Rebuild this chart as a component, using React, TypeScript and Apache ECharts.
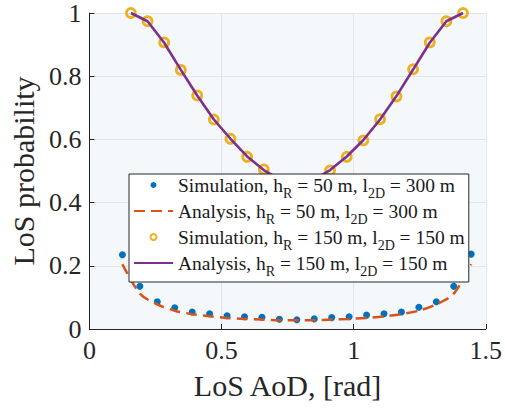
import React, { useEffect, useRef } from "react";
import * as echarts from "echarts";

// Simulation / analysis for h_R = 50 m, l_2D = 300 m
const aod50 = [0.125, 0.191, 0.257, 0.323, 0.389, 0.455, 0.521, 0.587, 0.653, 0.719, 0.785, 0.851, 0.917, 0.983, 1.049, 1.115, 1.181, 1.247, 1.313, 1.379, 1.445];
const sim50 = [0.235, 0.135, 0.086, 0.067, 0.054, 0.048, 0.042, 0.039, 0.037, 0.031, 0.029, 0.032, 0.036, 0.039, 0.044, 0.048, 0.054, 0.069, 0.086, 0.135, 0.237];
const ana50 = [0.205, 0.112, 0.078, 0.058, 0.047, 0.040, 0.035, 0.032, 0.030, 0.028, 0.028, 0.028, 0.030, 0.032, 0.035, 0.040, 0.047, 0.058, 0.078, 0.112, 0.205];

// Simulation / analysis for h_R = 150 m, l_2D = 150 m
const aod150 = [0.157, 0.220, 0.283, 0.346, 0.408, 0.471, 0.534, 0.597, 0.660, 0.723, 0.785, 0.848, 0.911, 0.974, 1.037, 1.100, 1.162, 1.225, 1.288, 1.351, 1.414];
const sim150 = [1.0, 0.974, 0.907, 0.820, 0.739, 0.663, 0.602, 0.545, 0.505, 0.472, 0.460, 0.472, 0.502, 0.545, 0.597, 0.664, 0.736, 0.822, 0.907, 0.974, 1.0];
const ana150 = [1.0, 0.974, 0.906, 0.820, 0.739, 0.663, 0.602, 0.546, 0.503, 0.472, 0.460, 0.472, 0.503, 0.546, 0.598, 0.663, 0.737, 0.821, 0.906, 0.974, 1.0];

const seriesNames = [
  "Simulation, hR = 50 m, l2D = 300 m",
  "Analysis, hR = 50 m, l2D = 300 m",
  "Simulation, hR = 150 m, l2D = 150 m",
  "Analysis, hR = 150 m, l2D = 150 m",
];
const legendRich = [
  "{t|Simulation, h}{s|R}{t| = 50 m, l}{s|2D}{t| = 300 m}",
  "{t|Analysis, h}{s|R}{t| = 50 m, l}{s|2D}{t| = 300 m}",
  "{t|Simulation, h}{s|R}{t| = 150 m, l}{s|2D}{t| = 150 m}",
  "{t|Analysis, h}{s|R}{t| = 150 m, l}{s|2D}{t| = 150 m}",
];

const xTicks = { min: 0, max: 1.5, interval: 0.5 };
const yTicks = { min: 0, max: 1, interval: 0.2 };

const FONT = "Liberation Serif";
const TXT = "#262626";

const zip = (xs: number[], ys: number[]) => xs.map((x, i) => [x, ys[i]]);

export default function App() {
  const ref = useRef<HTMLDivElement>(null);
  useEffect(() => {
    document.body.style.margin = "0";
    const chart = echarts.init(ref.current!, null, { renderer: "svg" });
    chart.setOption({
      animation: false,
      backgroundColor: "#ffffff",
      textStyle: { fontFamily: FONT },
      grid: {
        left: 85,
        top: 11,
        right: 17,
        bottom: 80,
        show: true,
        backgroundColor: "#f5f8fb",
        borderWidth: 0,
      },
      xAxis: {
        type: "value",
        ...xTicks,
        name: "LoS AoD, [rad]",
        nameLocation: "middle",
        nameGap: 41,
        nameTextStyle: { fontFamily: FONT, fontSize: 30, color: TXT },
        axisLine: { lineStyle: { color: TXT, width: 1 } },
        axisTick: { inside: true, length: 5, lineStyle: { color: TXT } },
        axisLabel: { fontFamily: FONT, fontSize: 26, color: TXT, margin: 8 },
        splitLine: { show: true, lineStyle: { color: "#e2e5e9", width: 1 } },
      },
      yAxis: {
        type: "value",
        ...yTicks,
        name: "LoS probability",
        nameLocation: "middle",
        nameGap: 46,
        nameTextStyle: { fontFamily: FONT, fontSize: 30, color: TXT },
        axisLine: { show: true, lineStyle: { color: TXT, width: 1 } },
        axisTick: { show: true, inside: true, length: 5, lineStyle: { color: TXT } },
        axisLabel: { fontFamily: FONT, fontSize: 26, color: TXT, margin: 8 },
        splitLine: { show: true, lineStyle: { color: "#e2e5e9", width: 1 } },
      },
      legend: {
        orient: "vertical",
        left: 129,
        top: 174,
        padding: [1, 4, 4, 4],
        itemGap: 1,
        itemWidth: 39,
        itemHeight: 6,
        backgroundColor: "#ffffff",
        borderColor: TXT,
        borderWidth: 1,
        borderRadius: 0,
        data: seriesNames.map((n, i) =>
          i % 2 === 1 ? { name: n, itemStyle: { opacity: 0 } } : { name: n }
        ),
        formatter: (name: string) => legendRich[seriesNames.indexOf(name)],
        textStyle: {
          fontFamily: FONT,
          color: "#1a1a1a",
          rich: {
            t: { fontFamily: FONT, fontSize: 19.5, lineHeight: 30, color: "#1a1a1a" },
            s: { fontFamily: FONT, fontSize: 14, lineHeight: 12, verticalAlign: "bottom", color: "#1a1a1a" },
          },
        },
      },
      series: [
        {
          name: seriesNames[0],
          type: "scatter",
          data: zip(aod50, sim50),
          symbol: "circle",
          symbolSize: 7,
          itemStyle: { color: "#0072BD", opacity: 1 },
        },
        {
          name: seriesNames[1],
          type: "line",
          data: zip(aod50, ana50),
          showSymbol: false,
          symbol: "none",
          smooth: 0.3,
          lineStyle: { color: "#D95319", width: 2.5, type: [11, 6] },
          itemStyle: { color: "#D95319" },
        },
        {
          name: seriesNames[2],
          type: "scatter",
          data: zip(aod150, sim150),
          symbol: "circle",
          symbolSize: 9,
          itemStyle: { color: "rgba(0,0,0,0)", borderColor: "#EDB120", borderWidth: 2.8, opacity: 1 },
        },
        {
          name: seriesNames[3],
          type: "line",
          data: zip(aod150, ana150),
          showSymbol: false,
          symbol: "none",
          lineStyle: { color: "#7E2F8E", width: 2.6 },
          itemStyle: { color: "#7E2F8E" },
        },
      ],
    });
    return () => chart.dispose();
  }, []);
  return <div ref={ref} style={{ width: 505, height: 409 }} />;
}
